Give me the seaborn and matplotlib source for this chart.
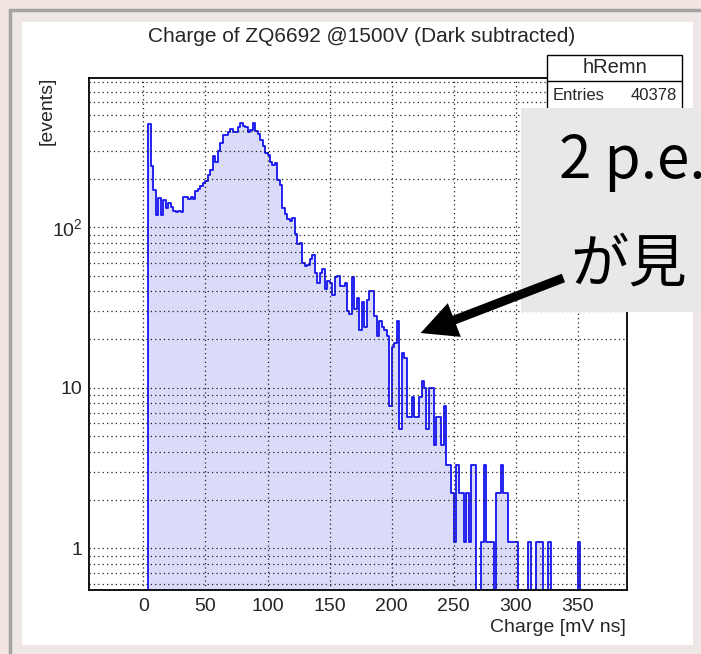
import numpy as np
import pandas as pd
import matplotlib
matplotlib.use("Agg")
import matplotlib.pyplot as plt
import seaborn as sns
from matplotlib.patches import Rectangle, FancyArrowPatch
from matplotlib.ticker import FixedLocator, MultipleLocator, NullFormatter

# ---------------- data ----------------
title = "Charge of ZQ6692 @1500V (Dark subtracted)"
x_label = "Charge [mV ns]"
y_label = "[events]"
hist_name = "hRemn"
entries_label = "Entries"
entries_value = "40378"
note_lines = ["2 p.e.", "が見"]

bin_width = 2.0
first_edge = 4.0
counts = [
    438, 240, 170, 119, 152, 119, 148, 131, 141, 134,
    126, 125, 126, 125, 155, 155, 149, 155, 149, 169,
    172, 181, 188, 195, 212, 228, 278, 256, 300, 333,
    376, 376, 394, 408, 394, 394, 424, 449, 428, 424,
    394, 406, 444, 400, 380, 350, 320, 290, 280, 255,
    245, 250, 197, 184, 131, 121, 112, 110, 115, 91,
    79, 80, 60, 57, 58, 63, 67, 52, 45, 52,
    55, 41, 46, 45, 38, 49, 50, 43, 43, 45,
    30, 29, 49, 31, 36, 23, 34, 24, 35, 40,
    40, 28, 21, 26, 24, 23, 21, 7.7, 18, 19,
    26, 5.5, 16.5, 15.4, 6.6, 6.6, 8.8, 6.6, 6.6, 8.8,
    11, 9.9, 5.5, 9.9, 9.9, 4.4, 6.6, 6.6, 4.4, 7.7,
    3.3, 3.3, 2.2, 1.1, 3.3, 2.2, 2.2, 1.1, 2.2, 1.1,
    3.3, 3.3, 0, 0, 1.1, 3.3, 1.1, 1.1, 1.1, 0,
    2.2, 2.2, 3.3, 2.2, 2.2, 1.1, 1.1, 1.1, 1.1, 0,
    0, 0, 0, 1.1, 0, 0, 1.1, 1.1, 1.1, 0,
    0, 1.1, 0, 0, 0, 0, 0, 0, 0, 0,
    0, 0, 0, 1.1, 0,
]
x_ticks = [0, 50, 100, 150, 200, 250, 300, 350]
y_ticks = [1, 10, 100]
y_tick_labels = ["1", "10", "$10^{2}$"]

edges = [float(first_edge + bin_width * i) for i in range(len(counts) + 1)]
centers = [0.5 * (a + b) for a, b in zip(edges[:-1], edges[1:])]
df = pd.DataFrame({"charge": centers, "events": counts})

# ---------------- style ----------------
sns.set_style("white")
plt.rcParams["font.family"] = ["Liberation Sans", "DejaVu Sans"]
plt.rcParams["mathtext.fontset"] = "custom"
plt.rcParams["mathtext.rm"] = "Liberation Sans"
plt.rcParams["mathtext.it"] = "Liberation Sans"

W, H = 701, 654
fig = plt.figure(figsize=(W / 100, H / 100), dpi=100)
fig.patch.set_facecolor("#f3e5e0")


def fx(px):
    return px / W


def fy(py):
    return 1 - py / H


def rect(x0, y0, x1, y1, **kw):
    r = Rectangle((fx(x0), fy(y1)), fx(x1) - fx(x0), fy(y0) - fy(y1),
                  transform=fig.transFigure, **kw)
    fig.patches.append(r)
    return r


# slide / canvas frame
rect(10, 10, 760, 720, facecolor="#efe7e5", edgecolor="#a3a3a3", lw=2.5, zorder=-3)
rect(22, 22, 693, 645, facecolor="white", edgecolor="none", zorder=-2)

# ---------------- axes ----------------
ax = fig.add_axes([fx(89.3), fy(590), (627.3 - 89.3) / W, (590 - 77.7) / H])
ax.set_facecolor("white")

sns.histplot(data=df, x="charge", weights="events", bins=edges,
             element="step", fill=True, color="#1414f0", alpha=0.22,
             linewidth=1.3, ax=ax)
for coll in ax.collections:
    coll.set_facecolor("#dadaf9")

ax.set_yscale("log")
ax.set_xlim(-43.5, 389.7)
ax.set_ylim(0.549, 855)

ax.xaxis.set_major_locator(FixedLocator(x_ticks))
ax.xaxis.set_minor_locator(MultipleLocator(10))
ax.set_xticklabels([str(t) for t in x_ticks])
ax.yaxis.set_major_locator(FixedLocator(y_ticks))
minor_y = [m * d for d in (0.1, 1, 10, 100) for m in range(2, 10)]
ax.yaxis.set_minor_locator(FixedLocator(minor_y))
ax.yaxis.set_minor_formatter(NullFormatter())
ax.set_yticklabels(y_tick_labels)

ax.tick_params(axis="both", which="both", direction="in", color="black",
               labelsize=14, width=1.0)
ax.tick_params(axis="x", which="major", length=15, pad=6)
ax.tick_params(axis="x", which="minor", length=7)
ax.tick_params(axis="y", which="major", length=15, pad=5)
ax.tick_params(axis="y", which="minor", length=8)
ax.tick_params(top=False, right=False)

ax.set_axisbelow(False)
grid_kw = dict(color="#222222", linestyle=(0, (1, 2.5)), linewidth=0.9)
ax.grid(True, which="major", axis="x", **grid_kw)
ax.grid(True, which="both", axis="y", **grid_kw)

for s in ax.spines.values():
    s.set_color("black")
    s.set_linewidth(1.3)
    s.set_visible(True)

ax.set_xlabel("")
ax.set_ylabel("")

# labels
fig.text(fx(362), fy(37), title, ha="center", va="center", fontsize=15)
fig.text(fx(626), fy(627), x_label, ha="right", va="center", fontsize=14)
fig.text(fx(47), fy(77), y_label, ha="center", va="top", rotation=90, fontsize=14)

# stats box
rect(547, 55, 682, 160, facecolor="white", edgecolor="black", lw=1.0, zorder=2)
fig.add_artist(plt.Line2D([fx(547), fx(682)], [fy(80.7), fy(80.7)],
                          transform=fig.transFigure, color="black", lw=1.0, zorder=2.5))
fig.text(fx(614.5), fy(67.5), hist_name, ha="center", va="center", fontsize=14.5, zorder=3)
fig.text(fx(553), fy(95), entries_label, ha="left", va="center", fontsize=12, zorder=3)
fig.text(fx(677), fy(95), entries_value, ha="right", va="center", fontsize=12, zorder=3)

# slide overlay
rect(521, 108, 760, 312, facecolor="#e8e8e8", edgecolor="none", zorder=5)
cjk = ["Noto Sans CJK JP", "DejaVu Sans"]
fig.text(fx(559), fy(178), note_lines[0], ha="left", va="baseline",
         fontsize=42, family=cjk, color="black", zorder=6)
fig.text(fx(570), fy(281), note_lines[1], ha="left", va="baseline",
         fontsize=42, family=cjk, color="black", zorder=6)

arrow = FancyArrowPatch((fx(566), fy(277)), (fx(418), fy(334)),
                        transform=fig.transFigure,
                        arrowstyle="simple,head_length=26,head_width=26,tail_width=6.5",
                        mutation_scale=1, color="black", lw=0, zorder=7)
fig.patches.append(arrow)

fig.savefig("out.png", dpi=100, facecolor=fig.get_facecolor())
